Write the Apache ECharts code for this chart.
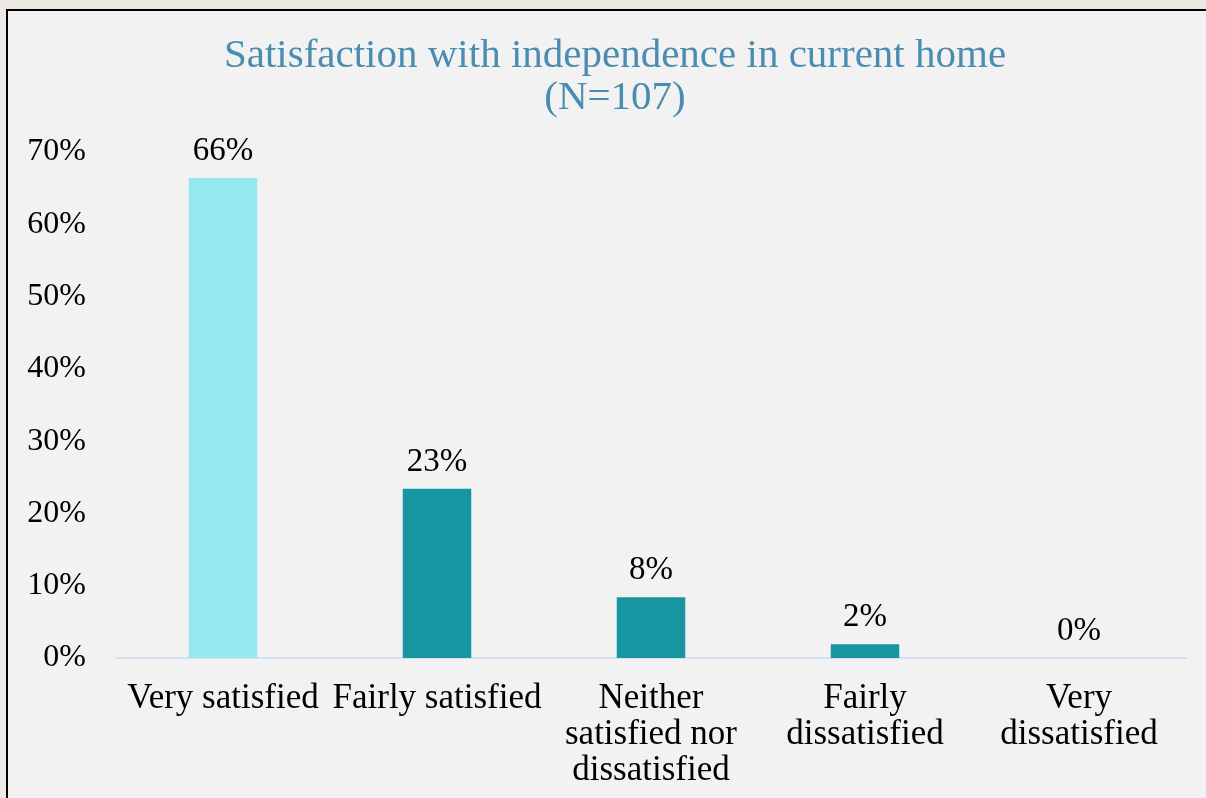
<!DOCTYPE html>
<html>
<head>
<meta charset="utf-8">
<style>
  html, body { margin: 0; padding: 0; background: #ece9e4; }
  #frame {
    position: absolute; left: 6px; top: 9px; width: 1200px; height: 789px;
    box-sizing: border-box; background: #f2f2f2;
    border-top: 2px solid #000; border-left: 2px solid #000;
  }
  #chart { position: absolute; left: 0; top: 0; width: 1206px; height: 798px; }
</style>
<script src="https://cdn.jsdelivr.net/npm/echarts@6/dist/echarts.min.js"></script>
</head>
<body>
<div id="frame"></div>
<div id="chart"></div>
<script>
// Survey responses: satisfaction with independence in current home (N=107)
const categories = [
  'Very satisfied',
  'Fairly satisfied',
  'Neither\nsatisfied nor\ndissatisfied',
  'Fairly\ndissatisfied',
  'Very\ndissatisfied'
];
const percentages = [66.4, 23.4, 8.4, 1.9, 0];
const barColors = ['#95e7f0', '#1796a1', '#1796a1', '#1796a1', '#1796a1'];
const yTicks = { min: 0, max: 70, interval: 10 };
const titleLines = ['Satisfaction with independence in current home', '(N=107)'];

const serif = "'Liberation Serif', 'DejaVu Serif', serif";

const chart = echarts.init(document.getElementById('chart'), null, { renderer: 'canvas' });
chart.setOption({
  backgroundColor: 'transparent',
  animation: false,
  title: {
    text: titleLines.join('\n'),
    left: 610,
    top: 30,
    textAlign: 'center',
    textStyle: {
      fontFamily: serif,
      fontWeight: 'normal',
      fontSize: 41,
      lineHeight: 42,
      color: '#4a8db0'
    }
  },
  grid: { left: 116, right: 20, top: 152, bottom: 140, containLabel: false },
  xAxis: {
    type: 'category',
    data: categories,
    axisLine: { lineStyle: { color: '#d3e2ee', width: 2 } },
    axisTick: { show: false },
    axisLabel: {
      interval: 0,
      margin: 23,
      fontFamily: serif,
      fontSize: 35,
      lineHeight: 36,
      color: '#000'
    }
  },
  yAxis: {
    type: 'value',
    min: yTicks.min,
    max: yTicks.max,
    interval: yTicks.interval,
    splitLine: { show: false },
    axisLine: { show: false },
    axisTick: { show: false },
    axisLabel: {
      margin: 30,
      fontFamily: serif,
      fontSize: 32,
      color: '#000',
      formatter: v => v + '%'
    }
  },
  series: [{
    type: 'bar',
    data: percentages.map((v, i) => ({ value: v, itemStyle: { color: barColors[i] } })),
    barWidth: '32%',
    label: {
      show: true,
      position: 'top',
      distance: 10,
      fontFamily: serif,
      fontSize: 33,
      color: '#000',
      formatter: p => Math.round(p.value) + '%'
    }
  }]
});
</script>
</body>
</html>
